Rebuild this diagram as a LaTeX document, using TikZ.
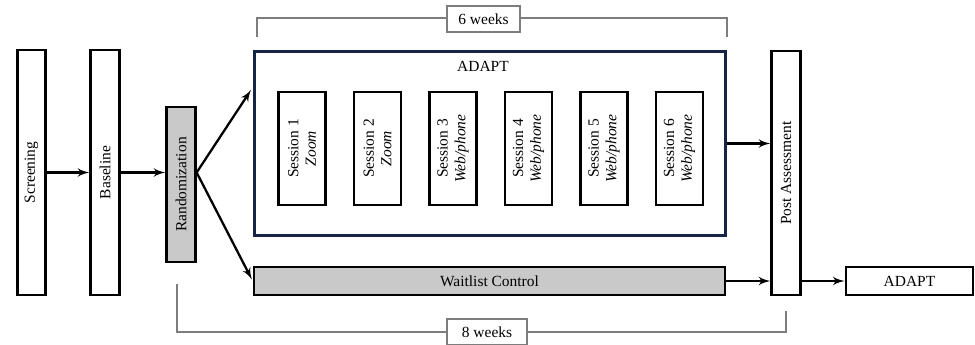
\documentclass[tikz,border=0pt]{standalone}
\usepackage{fontspec}
\setmainfont{Liberation Serif}
\usetikzlibrary{arrows}
\definecolor{boxgray}{RGB}{201,201,201}
\definecolor{framenavy}{RGB}{24,36,70}
\definecolor{bracketgray}{RGB}{125,125,125}
\tikzstyle{stage} = [draw, line width=1.6pt, inner sep=0pt, align=center]
\tikzstyle{line} = [draw, line width=1.3pt, -latex']

\begin{document}
\begin{tikzpicture}[x=0.02cm, y=-0.02cm, >=latex, %Pixelraster des Originals
				font=\fontsize{8.8}{10}\selectfont,
				vstage/.style={stage, rotate=90, minimum height=0.57cm},
				bracket/.style={draw, line width=0.6pt, color=bracketgray},
				span/.style={draw=bracketgray, line width=0.6pt, fill=white, minimum height=0.52cm}]
				\useasboundingbox (0,0) rectangle (975,345);
				%Saeulen links (gedreht: south = rechte Seite, north = linke Seite)
				\node[vstage, minimum width=4.9cm] (screen) at (31.5,172.5) {Screening};
				\node[vstage, minimum width=4.9cm] (base) at (105,172.5) {Baseline};
				\node[vstage, minimum width=3.1cm, fill=boxgray] (rand) at (181,184.5) {Randomization};
				%Interventionsblock
				\node[draw=framenavy, line width=1.2pt, minimum width=9.42cm, minimum height=3.68cm] (adapt) at (490,143.5) {};
				\node (adaptlbl) at (483,66) {ADAPT};
				\foreach \i/\mode in {1/Zoom,2/Zoom,3/{Web/phone},4/{Web/phone},5/{Web/phone},6/{Web/phone}}
					\node[vstage, minimum width=2.26cm, minimum height=0.94cm] (s\i) at ({302+75.5*(\i-1)},148.5) {Session \i\\\textit{\mode}};
				\node[stage, fill=boxgray, minimum width=9.42cm, minimum height=0.56cm] (waitlist) at (489.5,281) {Waitlist Control};
				%Saeule rechts
				\node[vstage, minimum width=4.88cm] (post) at (786,173) {Post Assessment};
				\node[stage, minimum width=2.54cm, minimum height=0.56cm] (adapt2) at (909.5,281) {ADAPT};
				%Pfeile
				\coordinate (fork) at (rand.south |- base.south);
				\coordinate (upend) at (251,90);
				\path[line] (screen.south) -- (base.north);
				\path[line] (base.south) -- (base.south -| rand.north);
				\path[line] (fork) -- (upend);
				\path[line, shorten >=1pt] (fork) -- (waitlist.west);
				\path[line] (adapt.east) -- (adapt.east -| post.north);
				\path[line] (waitlist.east) -- (waitlist.east -| post.north);
				\path[line] (post.south |- adapt2.west) -- (adapt2.west);
				%Klammern
				\node[span, minimum width=1.46cm] (wk6) at (483.5,19) {6 weeks};
				\node[span, minimum width=1.6cm] (wk8) at (487,332) {8 weeks};
				\draw[bracket] (257,37) -- (257,18) -- (wk6.west |- 0,18);
				\draw[bracket] (wk6.east |- 0,18) -- (727,18) -- (727,37);
				\draw[bracket] (177,284) -- (177,332) -- (wk8.west);
				\draw[bracket] (wk8.east) -- (786,332) -- (786,311);
			\end{tikzpicture}
\end{document}
